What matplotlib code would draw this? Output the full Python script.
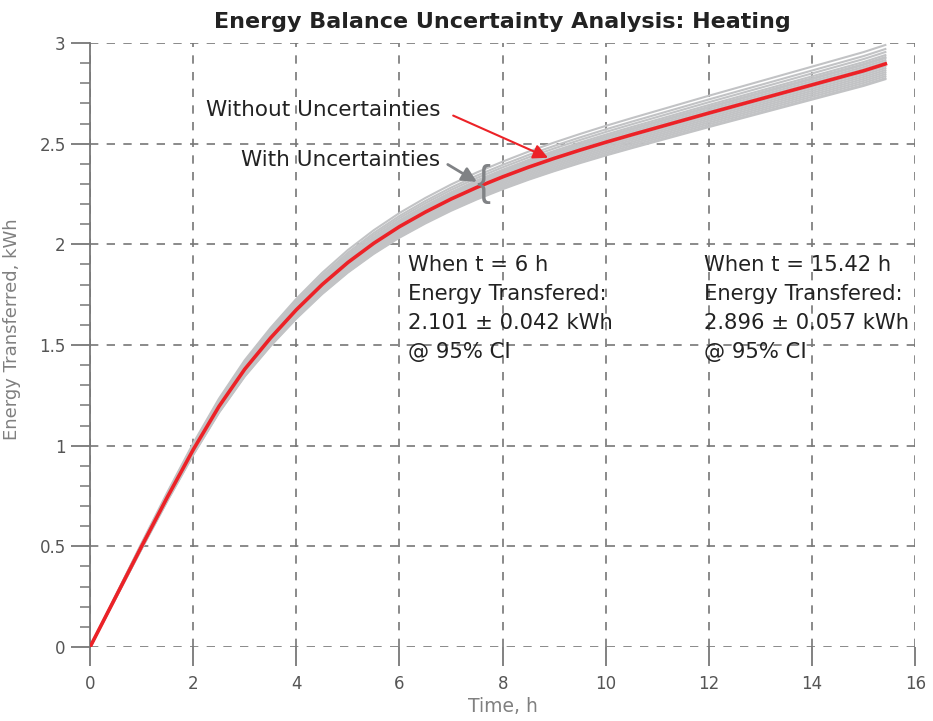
import numpy as np
import matplotlib
matplotlib.use('Agg')
import matplotlib.pyplot as plt

# nominal curve (without uncertainties)
time_h = [0, 0.5, 1, 1.5, 2, 2.5, 3, 3.5, 4, 4.5, 5, 5.5, 6, 6.5, 7, 7.5, 8,
          8.5, 9, 9.5, 10, 10.5, 11, 11.5, 12, 12.5, 13, 13.5, 14, 14.5, 15, 15.42]
energy_kwh = [0.0, 0.25, 0.50, 0.745, 0.98, 1.195, 1.38, 1.535, 1.675, 1.80,
              1.91, 2.005, 2.088, 2.16, 2.225, 2.283, 2.335, 2.383, 2.427,
              2.468, 2.507, 2.544, 2.58, 2.616, 2.652, 2.687, 2.722, 2.757,
              2.792, 2.827, 2.862, 2.896]

# end values (t = 15.42 h) of the Monte Carlo runs with uncertainties
run_end_kwh = [2.99, 2.97, 2.955, 2.94, 2.93, 2.925, 2.915, 2.905, 2.895,
               2.885, 2.875, 2.865, 2.855, 2.845, 2.835, 2.825, 2.82]

label_6h = 'When t = 6 h\nEnergy Transfered:\n2.101 \u00b1 0.042 kWh\n@ 95% CI'
label_end = 'When t = 15.42 h\nEnergy Transfered:\n2.896 \u00b1 0.057 kWh\n@ 95% CI'

plt.rcParams['font.family'] = ['DejaVu Sans']

fig = plt.figure(figsize=(9.33, 7.21), dpi=100)
ax = fig.add_axes([0.0965, 0.1026, 0.8845, 0.8378])

t = np.array(time_h)
e = np.array(energy_kwh)
for end in run_end_kwh:
    ax.plot(t, e * end / energy_kwh[-1], color='#c2c3c5', lw=1.5, zorder=2)
ax.plot(t, e, color='#ec2227', lw=2.6, zorder=3)

ax.set_xlim(0, 16)
ax.set_ylim(0, 3)
ax.set_xticks(np.arange(0, 17, 2))
ax.set_yticks(np.arange(0, 3.01, 0.5))
ax.set_yticks(np.arange(0, 3.01, 0.1), minor=True)
ax.set_yticklabels(['0', '0.5', '1', '1.5', '2', '2.5', '3'])

for s in ['top', 'right', 'bottom']:
    ax.spines[s].set_visible(False)
ax.spines['left'].set_color('#777777')
ax.spines['left'].set_linewidth(1.3)
ax.grid(True, color='#777777', ls=(0, (5, 5)), lw=1.2, zorder=1)
ax.tick_params(axis='both', which='major', direction='out', length=14,
               width=1.3, color='#777777', labelcolor='#555555', labelsize=12)
ax.tick_params(axis='x', pad=6)
ax.tick_params(axis='y', which='minor', direction='out', length=7,
               width=1.1, color='#777777')

ax.set_xlabel('Time, h', color='#808080', fontsize=13.5)
ax.xaxis.set_label_coords(0.5, -0.082)
ax.set_ylabel('Energy Transferred, kWh', color='#808080', fontsize=13)
ax.yaxis.set_label_coords(-0.084, 0.527)
ax.set_title('Energy Balance Uncertainty Analysis: Heating', fontsize=16,
             fontweight='bold', color='#222222', pad=11)

ax.annotate('Without Uncertainties', xy=(8.88, 2.43), xytext=(6.79, 2.668),
            fontsize=15.5, color='#222222', va='center', ha='right',
            arrowprops=dict(arrowstyle='-|>', color='#ec2227', lw=1.5,
                            mutation_scale=22, shrinkA=8, shrinkB=0,
                            relpos=(1, 0.5)))
ax.annotate('With Uncertainties', xy=(7.5, 2.31), xytext=(6.79, 2.419),
            fontsize=15.5, color='#222222', va='center', ha='right',
            arrowprops=dict(arrowstyle='-|>', color='#808285', lw=2,
                            mutation_scale=22, shrinkA=4, shrinkB=0,
                            relpos=(1, 0.5)))
ax.text(7.62, 2.3, '{', fontsize=30, color='#808285', va='center', ha='center',
        family='Liberation Sans', zorder=4)

ax.text(6.17, 1.945, label_6h, fontsize=15.2, color='#222222', va='top',
        linespacing=1.55)
ax.text(11.9, 1.945, label_end, fontsize=15.2, color='#222222', va='top',
        linespacing=1.55)

fig.savefig('out.png', dpi=100)
